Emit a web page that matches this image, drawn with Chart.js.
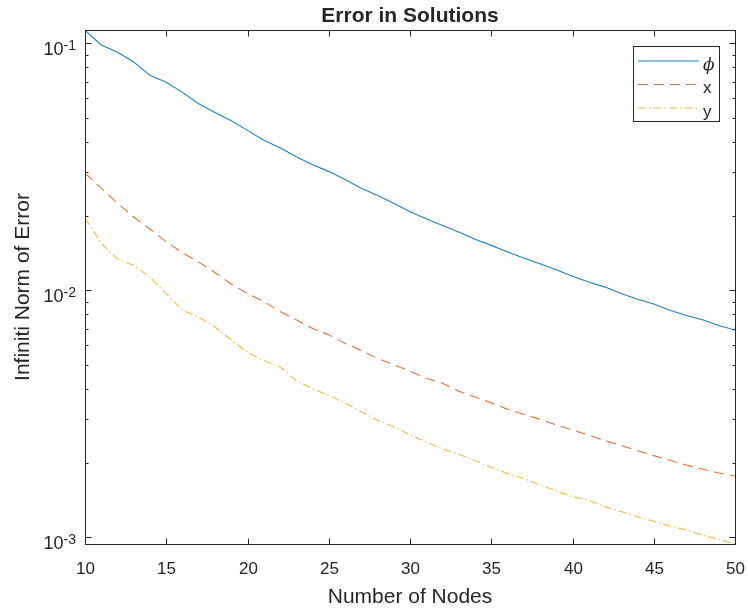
<!DOCTYPE html>
<html>
<head>
<meta charset="utf-8">
<title>Error in Solutions</title>
<script src="https://cdn.jsdelivr.net/npm/chart.js@4.4.1/dist/chart.umd.min.js"></script>
<style>
  html, body { margin: 0; padding: 0; background: #fff; }
  canvas { display: block; }
</style>
</head>
<body>
<canvas id="chart" width="748" height="611"></canvas>
<script>
const nodes = [10, 11, 12, 13, 14, 15, 16, 17, 18, 19, 20, 21, 22, 23, 24, 25, 26, 27, 28, 29, 30,
  31, 32, 33, 34, 35, 36, 37, 38, 39, 40, 41, 42, 43, 44, 45, 46, 47, 48, 49, 50];

const phiErr = [0.113, 0.0984, 0.0920, 0.0840, 0.0742, 0.0695, 0.0633, 0.0569, 0.0525, 0.0486, 0.0444,
  0.0405, 0.0378, 0.0347, 0.0322, 0.0303, 0.0281, 0.0259, 0.0242, 0.0225, 0.0208,
  0.0195, 0.0183, 0.0172, 0.0161, 0.0152, 0.0143, 0.0135, 0.0128, 0.0121, 0.0114,
  0.0108, 0.0103, 0.0097, 0.0092, 0.0088, 0.0083, 0.0079, 0.0076, 0.0072, 0.0069];

const xErr = [0.0298, 0.0259, 0.0225, 0.0198, 0.0177, 0.0157, 0.0142, 0.0130, 0.0118, 0.0106, 0.0097,
  0.0090, 0.0082, 0.0076, 0.0070, 0.0066, 0.0061, 0.0057, 0.0053, 0.0050, 0.0047,
  0.0044, 0.0042, 0.0039, 0.0037, 0.0035, 0.0033, 0.00315, 0.0030, 0.00285, 0.00272,
  0.00259, 0.00246, 0.00235, 0.00224, 0.00214, 0.00205, 0.00196, 0.00189, 0.00182, 0.00177];

const yErr = [0.0196, 0.0155, 0.0134, 0.0126, 0.0113, 0.0097, 0.0083, 0.0078, 0.0071, 0.0063, 0.0056,
  0.0052, 0.0049, 0.0043, 0.0040, 0.00375, 0.00350, 0.00322, 0.00298, 0.00280, 0.00260,
  0.00243, 0.00228, 0.00217, 0.00204, 0.00192, 0.00181, 0.00173, 0.00163, 0.00154, 0.00146,
  0.00141, 0.00133, 0.00127, 0.00121, 0.00116, 0.00111, 0.00107, 0.00102, 0.00098, 0.00094];

const seriesNames = ["\u03D5", "x", "y"];
const xTicks = [10, 15, 20, 25, 30, 35, 40, 45, 50];
const yMajorTicks = [0.001, 0.01, 0.1];
const yTickExponents = ["-3", "-2", "-1"];

const axisColor = "#262626";
const font = "'Liberation Sans', Arial, Helvetica, sans-serif";

const pts = (ys) => nodes.map((n, i) => ({ x: n, y: ys[i] }));

// axes box, inward ticks, labels and legend drawn the MATLAB way
const matlabAxes = {
  id: "matlabAxes",
  afterDraw(chart) {
    const { ctx, chartArea: a, scales } = chart;
    const xs = scales.x, ys = scales.y;
    ctx.save();
    ctx.strokeStyle = axisColor;
    ctx.fillStyle = axisColor;
    ctx.lineWidth = 1;
    ctx.setLineDash([]);

    ctx.strokeRect(a.left + 0.5, a.top + 0.5, a.right - a.left, a.bottom - a.top);

    // x ticks
    ctx.font = "17px " + font;
    ctx.textAlign = "center";
    ctx.textBaseline = "alphabetic";
    xTicks.forEach(t => {
      const px = Math.round(xs.getPixelForValue(t)) + 0.5;
      ctx.beginPath();
      ctx.moveTo(px, a.bottom + 0.5); ctx.lineTo(px, a.bottom - 5.5);
      ctx.moveTo(px, a.top + 0.5); ctx.lineTo(px, a.top + 6.5);
      ctx.stroke();
      ctx.fillText(String(t), px, a.bottom + 30);
    });

    // y minor ticks
    const minors = [];
    yMajorTicks.forEach(d => { for (let k = 2; k <= 9; k++) minors.push(d * k); });
    minors.forEach(v => {
      if (v < ys.min || v > ys.max) return;
      const py = Math.round(ys.getPixelForValue(v)) + 0.5;
      ctx.beginPath();
      ctx.moveTo(a.left + 0.5, py); ctx.lineTo(a.left + 3.5, py);
      ctx.moveTo(a.right + 0.5, py); ctx.lineTo(a.right - 2.5, py);
      ctx.stroke();
    });

    // y major ticks with 10^n labels
    yMajorTicks.forEach((v, i) => {
      const py = Math.round(ys.getPixelForValue(v)) + 0.5;
      ctx.beginPath();
      ctx.moveTo(a.left + 0.5, py); ctx.lineTo(a.left + 6.5, py);
      ctx.moveTo(a.right + 0.5, py); ctx.lineTo(a.right - 5.5, py);
      ctx.stroke();
      ctx.font = "14px " + font;
      const supW = ctx.measureText(yTickExponents[i]).width;
      const right = a.left - 9;
      ctx.textAlign = "left";
      ctx.fillText(yTickExponents[i], right - supW, py + 6);
      ctx.font = "18px " + font;
      ctx.textAlign = "right";
      ctx.fillText("10", right - supW, py + 11);
    });

    // titles
    const cx = (a.left + a.right) / 2;
    ctx.textAlign = "center";
    ctx.font = "bold 21px " + font;
    ctx.fillText("Error in Solutions", cx, 22);
    ctx.font = "21px " + font;
    ctx.fillText("Number of Nodes", cx, 603);
    ctx.save();
    ctx.translate(29, (a.top + a.bottom) / 2);
    ctx.rotate(-Math.PI / 2);
    ctx.fillText("Infiniti Norm of Error", 0, 0);
    ctx.restore();

    // legend
    const lx = 633.5, ly = 46.5, lw = 86, lh = 75;
    ctx.fillStyle = "#fff";
    ctx.fillRect(lx, ly, lw, lh);
    ctx.strokeRect(lx, ly, lw, lh);
    chart.data.datasets.forEach((ds, i) => {
      const y = 61 + i * 23.5;
      ctx.strokeStyle = ds.borderColor;
      ctx.lineWidth = ds.borderWidth;
      ctx.setLineDash(ds.borderDash || []);
      ctx.beginPath();
      ctx.moveTo(638, y); ctx.lineTo(699, y);
      ctx.stroke();
      ctx.fillStyle = axisColor;
      ctx.textAlign = "left";
      ctx.font = i === 0 ? "italic 17px 'DejaVu Serif', serif" : "17px " + font;
      ctx.fillText(ds.label, 703, y + 8.5);
    });
    ctx.restore();
  }
};

new Chart(document.getElementById("chart"), {
  type: "line",
  data: {
    datasets: [
      { label: seriesNames[0], data: pts(phiErr), borderColor: "#1f82c8", borderWidth: 1.1 },
      { label: seriesNames[1], data: pts(xErr), borderColor: "#e07040", borderWidth: 1.1, borderDash: [10, 6] },
      { label: seriesNames[2], data: pts(yErr), borderColor: "#efbd3c", borderWidth: 1.1, borderDash: [8, 3, 1.5, 3] }
    ]
  },
  options: {
    responsive: false,
    animation: false,
    layout: { padding: { left: 85, right: 13, top: 30, bottom: 67 } },
    elements: { point: { radius: 0 }, line: { tension: 0, fill: false } },
    plugins: { legend: { display: false }, tooltip: { enabled: false }, title: { display: false } },
    scales: {
      x: { type: "linear", min: 10, max: 50, display: false },
      y: { type: "logarithmic", min: 0.000939, max: 0.1132, display: false }
    }
  },
  plugins: [matlabAxes]
});
</script>
</body>
</html>
